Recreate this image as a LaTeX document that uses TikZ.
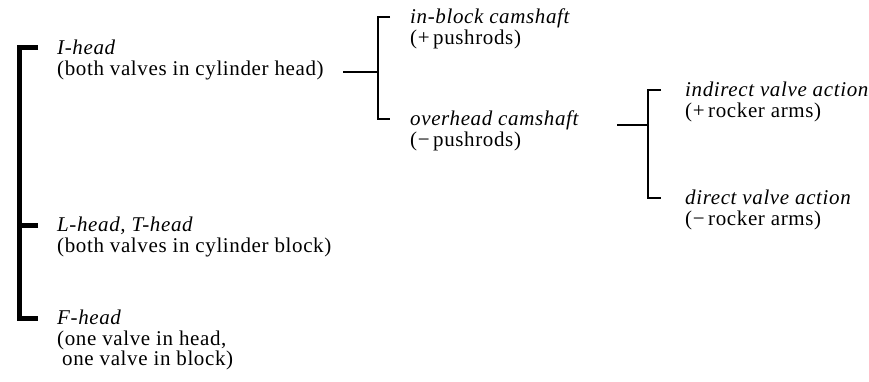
\documentclass[tikz,border=0pt]{standalone}
\usepackage{fontspec}
\setmainfont{Liberation Serif}[LetterSpace=3]
\newcommand\itemfont{\fontsize{21}{20.5}\selectfont\lineskiplimit=-30pt\relax}
\begin{document}
\begin{tikzpicture}[x=1pt,y=-1pt,
  item/.style={anchor=north west,inner sep=0pt,align=left,font=\itemfont},
  bkA/.style={line width=5pt},
  bkB/.style={line width=2.5pt},
  cn/.style={line width=1.6pt}]
\useasboundingbox (0,0) rectangle (869,382);
% left column
\node[item] (ih) at (57,40) {\textit{I-head}\\(both valves in cylinder head)};
\node[item] (lh) at (57,217) {\textit{L-head, T-head}\\(both valves in cylinder block)};
\node[item] (fh) at (57,310) {\textit{F-head}\\(one valve in head,\\\hspace*{5pt}one valve in block)};
% middle column
\node[item] (ib) at (410,9) {\textit{in-block camshaft}\\(+\,pushrods)};
\node[item] (oh) at (410,111) {\textit{overhead camshaft}\\(−\,pushrods)};
% right column
\node[item] (iv) at (685,82) {\textit{indirect valve action}\\(+\,rocker arms)};
\node[item] (dv) at (685,190) {\textit{direct valve action}\\(−\,rocker arms)};
% bracket 1
\draw[bkA] ([xshift=-19pt,yshift=-8pt]ih.north west) -- ([xshift=-38pt,yshift=-8pt]ih.north west) |- ([xshift=-19pt,yshift=-8pt]fh.north west);
\draw[bkA] ([xshift=-19pt,yshift=-8pt]lh.north west) -- ([xshift=-38pt,yshift=-8pt]lh.north west);
% connector 1 and bracket 2
\coordinate (c1) at (343,72);
\coordinate (j2) at (378,72);
\draw[cn] (c1) -- (j2);
\draw[bkB] ([xshift=-20pt,yshift=-8pt]ib.north west) -- ([xshift=-32pt,yshift=-8pt]ib.north west) |- ([xshift=-20pt,yshift=-8pt]oh.north west);
% connector 2 and bracket 3
\coordinate (c2) at (617,125);
\coordinate (j3) at (648,125);
\draw[cn] (c2) -- (j3);
\draw[bkB] ([xshift=-24pt,yshift=-8pt]iv.north west) -- ([xshift=-37pt,yshift=-8pt]iv.north west) |- ([xshift=-24pt,yshift=-8pt]dv.north west);
\end{tikzpicture}
\end{document}
